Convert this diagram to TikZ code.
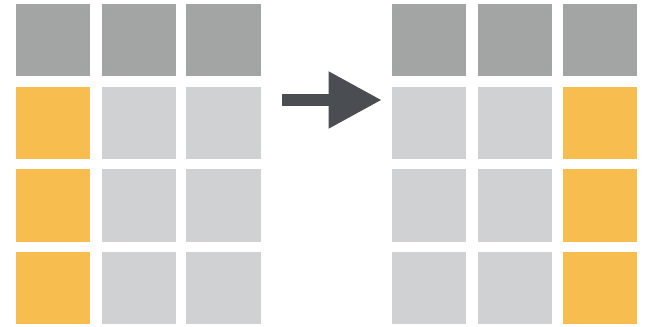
\documentclass[tikz,border=0pt]{standalone}
\usetikzlibrary{arrows.meta}
\definecolor{headgray}{HTML}{A3A5A4}
\definecolor{cellgray}{HTML}{D0D1D3}
\definecolor{keyorange}{HTML}{F7BE4F}
\definecolor{arrowgray}{HTML}{4A4D52}
\begin{document}
\begin{tikzpicture}[x=0.025cm, y=-0.025cm,
      cell/.style={rectangle, inner sep=0pt, minimum width=1.85cm,
                   minimum height=1.8cm, fill=cellgray},
      head/.style={cell, fill=headgray},
      key/.style={cell, fill=keyorange}]
    \useasboundingbox (0,0) rectangle (648,327);
    % left table: key in first column
    \foreach \c/\x in {1/53, 2/139, 3/223.5} {
      \node[head] (lh\c) at (\x,40) {};
    }
    \foreach \r/\y in {1/123, 2/205.5, 3/288} {
      \node[key]  (l\r1) at (53,\y) {};
      \node[cell] (l\r2) at (139,\y) {};
      \node[cell] (l\r3) at (223.5,\y) {};
    }
    % right table: key moved to last column
    \foreach \c/\x in {1/429, 2/515, 3/600} {
      \node[head] (rh\c) at (\x,40) {};
    }
    \foreach \r/\y in {1/123, 2/205.5, 3/288} {
      \node[cell] (r\r1) at (429,\y) {};
      \node[cell] (r\r2) at (515,\y) {};
      \node[key]  (r\r3) at (600,\y) {};
    }
    \coordinate (from) at (282,100);
    \coordinate (to) at (382,100);
    \draw[arrowgray, line width=9.2pt,
          -{Triangle[length=38pt, width=38pt]}] (from) -- (to);
  \end{tikzpicture}
\end{document}
